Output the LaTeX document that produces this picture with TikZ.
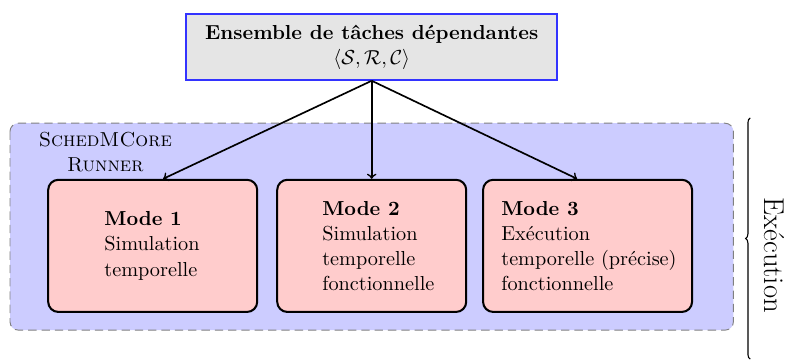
\documentclass[tikz,border=0pt,11pt]{standalone}
\usepackage{tikz}
\usetikzlibrary{positioning, decorations.pathreplacing, backgrounds}

\begin{document}
\begin{tikzpicture}[
    tasks/.style={
        draw=blue!80, line width=0.9pt, fill=gray!20,
        minimum width=70.5mm, minimum height=12.5mm, align=center, inner sep=3pt,
    },
    runner/.style={
        draw=gray, dash pattern=on 4.5pt off 2.7pt, line width=0.5pt,
        fill=blue!20, rounded corners=4.5pt,
    },
    mode/.style={
        draw=black, line width=1.1pt, fill=red!20, rounded corners=5.5pt,
        minimum height=25.1mm, inner sep=0pt,
    },
    modetext/.style={align=left, anchor=west, inner sep=0pt},
    arrow/.style={->, line width=0.9pt},
]
\useasboundingbox (0,0) rectangle (15.10,-6.86);

% --- runner area ---
\draw[runner] (0.19,-2.34) rectangle (13.93,-6.27);
\node[align=center, inner sep=0pt] (rlabel) at (2.0,-2.89)
    {\textsc{SchedMCore}\\\textsc{Runner}};

% --- task set ---
\node[tasks] (tasks) at (7.06,-0.893)
    {\textbf{Ensemble de tâches dépendantes}\\$\langle\mathcal{S},\mathcal{R},\mathcal{C}\rangle$};

% --- modes ---
\node[mode, minimum width=39.7mm] (m1) at (2.90,-4.67) {};
\node[modetext] (t1) at ([xshift=10.8mm]m1.west)
    {\textbf{Mode 1}\\Simulation\\temporelle};

\node[mode, minimum width=35.9mm] (m2) at (7.06,-4.67) {};
\node[modetext] (t2) at ([xshift=8.7mm]m2.west)
    {\textbf{Mode 2}\\Simulation\\temporelle\\fonctionnelle};

\node[mode, minimum width=39.7mm] (m3) at (11.16,-4.67) {};
\node[modetext] (t3) at ([xshift=3.6mm]m3.west)
    {\textbf{Mode 3}\\Exécution\\temporelle (précise)\\fonctionnelle};

% arrows
\draw[arrow] (tasks.south) -- ([xshift=2mm]m1.north);
\draw[arrow] (tasks.south) -- (m2.north);
\draw[arrow] (tasks.south) -- ([xshift=-2mm]m3.north);

% --- brace ---
\coordinate (bbot) at (14.25,-6.82);
\coordinate (btop) at (14.25,-2.24);
\draw[decorate, decoration={brace}, line width=0.6pt] (bbot) -- (btop);
\node[rotate=-90, font=\fontsize{15.5}{18}\selectfont] (exec) at (14.71,-4.85) {Exécution};

\end{tikzpicture}
\end{document}
